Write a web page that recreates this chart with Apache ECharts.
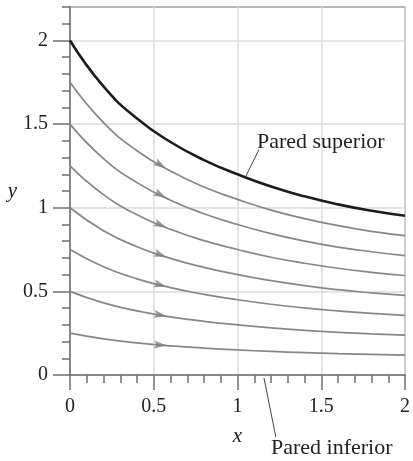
<!DOCTYPE html>
<html><head><meta charset="utf-8">
<script src="https://cdn.jsdelivr.net/npm/echarts@6/dist/echarts.min.js"></script>
<style>html,body{margin:0;padding:0;background:#fff}#c{width:413px;height:461px}</style>
</head><body><div id="c"></div>
<script>
const xs = [0,0.2,0.4,0.6,0.8,1.0,1.2,1.4,1.6,1.8,2.0];
const upperWall = [2.000,1.725,1.533,1.393,1.285,1.200,1.127,1.068,1.020,0.982,0.952];
const stream175 = [1.750,1.509,1.341,1.219,1.124,1.050,0.986,0.935,0.893,0.859,0.833];
const stream150 = [1.500,1.294,1.150,1.045,0.964,0.900,0.845,0.801,0.765,0.737,0.714];
const stream125 = [1.250,1.078,0.958,0.871,0.803,0.750,0.704,0.668,0.638,0.614,0.595];
const stream100 = [1.000,0.863,0.767,0.697,0.643,0.600,0.564,0.534,0.510,0.491,0.476];
const stream075 = [0.750,0.647,0.575,0.522,0.482,0.450,0.423,0.401,0.383,0.368,0.357];
const stream050 = [0.500,0.431,0.383,0.348,0.321,0.300,0.282,0.267,0.255,0.246,0.238];
const stream025 = [0.250,0.216,0.192,0.174,0.161,0.150,0.141,0.134,0.128,0.123,0.119];
const streams = [stream175, stream150, stream125, stream100, stream075, stream050, stream025];
const majorTicks = [0, 0.5, 1, 1.5, 2];
const xLabels = ['0','0.5','1','1.5','2'];
const yLabels = ['0','0.5','1','1.5','2'];
const arrowX = 0.54;
const labelUpper = 'Pared superior';
const labelLower = 'Pared inferior';

const FONT = "'Liberation Serif', 'DejaVu Serif', serif";
const GRAY = '#878787';
const AXIS = '#707070';

function interp(arr, x) {
  for (let i = 0; i < xs.length - 1; i++) {
    if (x >= xs[i] && x <= xs[i+1]) {
      const t = (x - xs[i]) / (xs[i+1] - xs[i]);
      return [arr[i] + t * (arr[i+1] - arr[i]), (arr[i+1] - arr[i]) / (xs[i+1] - xs[i])];
    }
  }
  return [arr[arr.length-1], 0];
}
const pairs = arr => xs.map((x, i) => [x, arr[i]]);

const chart = echarts.init(document.getElementById('c'), null, {renderer: 'canvas'});

const series = [];
streams.forEach(s => {
  series.push({
    type: 'line', data: pairs(s), showSymbol: false, smooth: 0.5,
    lineStyle: {color: GRAY, width: 1.7}, silent: true, z: 3
  });
});
series.push({
  type: 'line', data: pairs(upperWall), showSymbol: false, smooth: 0.5,
  lineStyle: {color: '#1c1c1c', width: 2.6}, silent: true, z: 4
});
series.push({
  type: 'scatter', z: 5, silent: true,
  symbol: 'path://M0,0 L12,4 L0,8 L2.5,4 Z',
  symbolSize: [13, 8],
  itemStyle: {color: '#7e7e7e'},
  data: streams.map(s => {
    const [y, slope] = interp(s, arrowX);
    return {value: [arrowX, y], symbolRotate: Math.atan(slope) * 180 / Math.PI};
  })
});

const gridCfg = {left: 70, right: 6, top: 7, bottom: 86, show: true, borderColor: AXIS, borderWidth: 1.2, backgroundColor: 'transparent'};

chart.setOption({
  animation: false,
  grid: gridCfg,
  xAxis: [{
    type: 'value', min: 0, max: 2, interval: 0.5,
    axisLine: {show: true, lineStyle: {color: AXIS, width: 1.5}},
    axisTick: {show: true, length: 15, lineStyle: {color: AXIS, width: 1.5}},
    axisLabel: {show: true, margin: 22, color: '#222', fontFamily: FONT, fontSize: 20,
      formatter: v => { const i = majorTicks.indexOf(v); return i >= 0 ? xLabels[i] : ''; }},
    splitLine: {show: true, lineStyle: {color: '#dcdcdc', width: 1.5}}
  }, {
    type: 'value', min: 0, max: 2, interval: 0.1, position: 'bottom',
    axisLine: {show: false},
    axisTick: {show: true, length: 8, lineStyle: {color: AXIS, width: 1.5}},
    axisLabel: {show: false}, splitLine: {show: false}
  }],
  yAxis: [{
    type: 'value', min: 0, max: 2.2, interval: 0.5,
    axisLine: {show: true, lineStyle: {color: AXIS, width: 1.5}},
    axisTick: {show: true, length: 17, lineStyle: {color: AXIS, width: 1.5}, customValues: majorTicks},
    axisLabel: {show: true, margin: 22, color: '#222', fontFamily: FONT, fontSize: 20,
      customValues: majorTicks,
      formatter: v => { const i = majorTicks.indexOf(v); return i >= 0 ? yLabels[i] : ''; }},
    splitLine: {show: true, lineStyle: {color: '#dcdcdc', width: 1.5}}
  }, {
    type: 'value', min: 0, max: 2.2, interval: 0.1, position: 'left',
    axisLine: {show: false},
    axisTick: {show: true, length: 8, lineStyle: {color: AXIS, width: 1.5}},
    axisLabel: {show: false}, splitLine: {show: false}
  }],
  series: series
});

function px(x, y) { return chart.convertToPixel({xAxisIndex: 0, yAxisIndex: 0}, [x, y]); }
const a1 = px(1.128, 1.347), a2 = px(1.049, 1.187);
const b1 = px(1.158, -0.018), b2 = px(1.229, -0.371);
const t1 = px(1.116, 1.389), t2 = px(1.20, -0.437);
const xl = px(1.0, -0.365), yl = px(-0.344, 1.10);
chart.setOption({
  graphic: [
    {type: 'line', shape: {x1: a1[0], y1: a1[1], x2: a2[0], y2: a2[1]}, style: {stroke: '#444', lineWidth: 1}, z: 10},
    {type: 'line', shape: {x1: b1[0], y1: b1[1], x2: b2[0], y2: b2[1]}, style: {stroke: '#444', lineWidth: 1}, z: 10},
    {type: 'text', x: t1[0], y: t1[1], style: {text: labelUpper, font: "22px " + FONT, fill: '#222', align: 'left', verticalAlign: 'middle'}, z: 10},
    {type: 'text', x: t2[0], y: t2[1], style: {text: labelLower, font: "22px " + FONT, fill: '#222', align: 'left', verticalAlign: 'middle'}, z: 10},
    {type: 'text', x: xl[0], y: xl[1], style: {text: 'x', font: "italic 21px " + FONT, fill: '#222', align: 'center', verticalAlign: 'middle'}, z: 10},
    {type: 'text', x: yl[0], y: yl[1], style: {text: 'y', font: "italic 21px " + FONT, fill: '#222', align: 'center', verticalAlign: 'middle'}, z: 10}
  ]
});
</script></body></html>
